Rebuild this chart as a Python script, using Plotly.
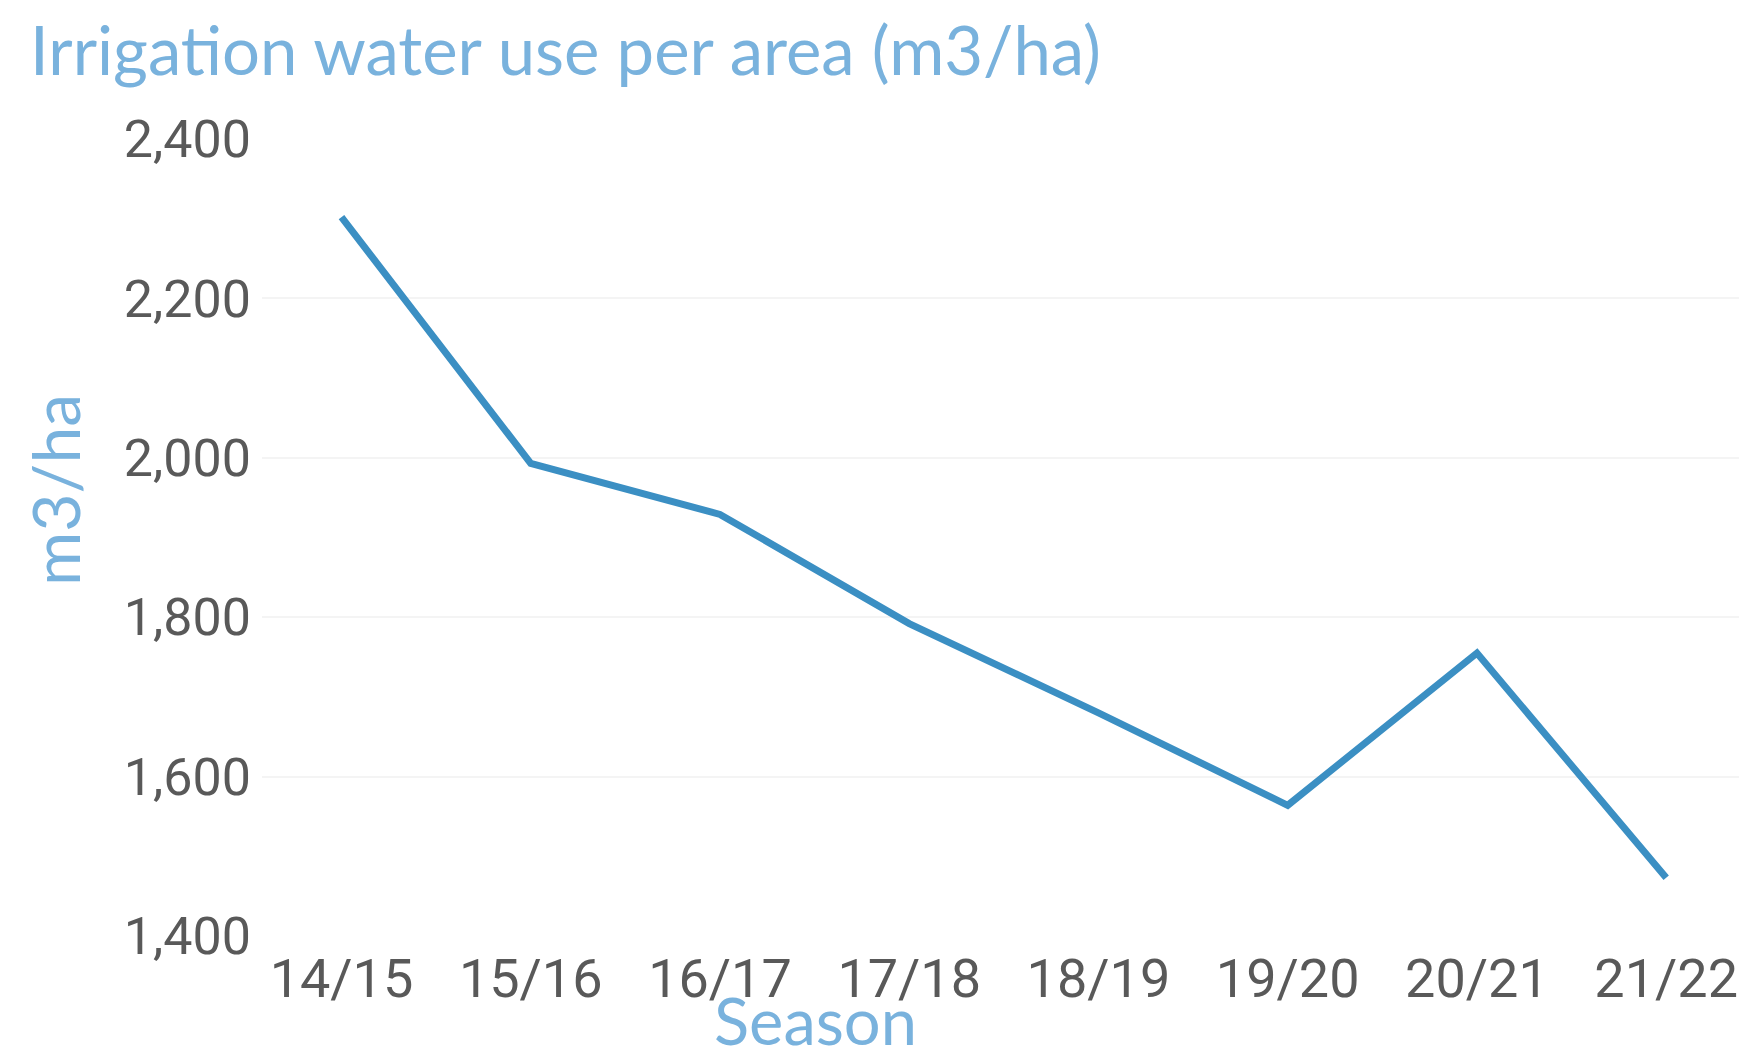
import plotly.graph_objects as go

seasons = ["14/15", "15/16", "16/17", "17/18", "18/19", "19/20", "20/21", "21/22"]
water_use = [2302, 1993, 1929, 1792, 1680, 1564, 1755, 1473]
y_ticks = [1400, 1600, 1800, 2000, 2200, 2400]

title_color = "#79b2dd"
tick_color = "#595959"

# page has an 8px body margin, so the figure is drawn at (8, 8)
W, H = 1739, 1048
ML, MR, MT, MB = 254, 7, 131, 120
PW, PH = W - ML - MR, H - MT - MB

fig = go.Figure()
fig.add_trace(go.Scatter(
    x=list(range(len(seasons))), y=water_use, mode="lines",
    line=dict(color="#3b8fc3", width=7), hoverinfo="skip", showlegend=False,
))

fig.update_layout(
    template="none",
    width=W, height=H,
    paper_bgcolor="white", plot_bgcolor="white",
    margin=dict(l=ML, r=MR, t=MT, b=MB, autoexpand=False),
    font=dict(family="Roboto", color=tick_color),
    xaxis=dict(
        tickmode="array", tickvals=list(range(len(seasons))), ticktext=seasons,
        range=[-0.42, 7.39], showgrid=False, zeroline=False, showline=False,
        tickfont=dict(size=54, color=tick_color), ticks="", ticklabelstandoff=6,
        automargin=False,
    ),
    yaxis=dict(
        tickmode="array", tickvals=y_ticks, ticktext=[f"{v:,}" for v in y_ticks],
        range=[1400, 2400], showgrid=True, gridcolor="#f4f4f4", gridwidth=2,
        zeroline=False, showline=False,
        tickfont=dict(size=52, color=tick_color), ticks="", ticklabelstandoff=10,
        automargin=False,
    ),
    annotations=[
        dict(text="Irrigation water use per area (m3/ha)", xref="paper", yref="paper",
             x=(20 - ML) / PW, y=1 + (MT - 41) / PH, xanchor="left", yanchor="middle",
             showarrow=False,
             font=dict(family="Lato", size=67, color=title_color)),
        dict(text="m3/ha", xref="paper", yref="paper", x=(46 - ML) / PW,
             y=(MT + PH - 482) / PH,
             xanchor="center", yanchor="middle", textangle=-90, showarrow=False,
             font=dict(family="Lato", size=66, color=title_color)),
        dict(text="Season", xref="paper", yref="paper", x=(807 - ML) / PW,
             y=-(1012 - (MT + PH)) / PH,
             xanchor="center", yanchor="middle", showarrow=False,
             font=dict(family="Lato", size=65, color=title_color)),
    ],
)

fig.write_html("out.html")
